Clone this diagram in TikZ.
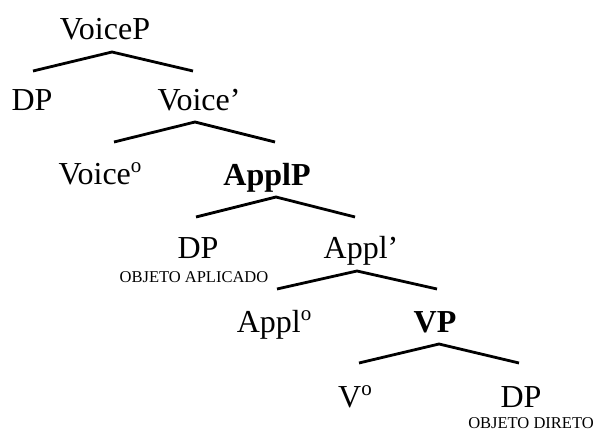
\documentclass[tikz,border=0pt]{standalone}
\usepackage{fontspec}
\setmainfont{Liberation Serif}
\begin{document}
\begin{tikzpicture}[x=1pt,y=-1pt,
  lbl/.style={anchor=base,inner sep=0pt,font=\fontsize{32}{36}\selectfont},
  blbl/.style={lbl,font=\fontsize{32}{36}\selectfont\bfseries},
  note/.style={anchor=base,inner sep=0pt,font=\fontsize{16.5}{18}\selectfont},
  branch/.style={line width=2.8pt,line cap=butt,line join=miter}]
\newcommand{\degsup}{\raisebox{12pt}{\fontsize{21}{21}\selectfont o}}
\useasboundingbox (0,0) rectangle (598,431);

% category labels (x = centre, y = baseline)
\node[lbl]  (voicep) at (105,39)  {VoiceP};
\node[lbl]  (dpa)    at (32,110)  {DP};
\node[lbl]  (voicebar) at (199,110) {Voice’};
\node[lbl]  (voicehead) at (100,184) {Voice\degsup};
\node[blbl] (applp)  at (267,185) {ApplP};
\node[lbl]  (dpb)    at (198,258) {DP};
\node[note] (objapl) at (194,282) {OBJETO APLICADO};
\node[lbl]  (applbar) at (361,258) {Appl’};
\node[lbl]  (applhead) at (274,332) {Appl\degsup};
\node[blbl] (vp)     at (435,332) {VP};
\node[lbl]  (vhead)  at (355,407) {V\degsup};
\node[lbl]  (dpc)    at (521,407) {DP};
\node[note] (objdir) at (531,428) {OBJETO DIRETO};

% branching points
\coordinate (t1) at (112,52);  \coordinate (l1) at (33,71);   \coordinate (r1) at (193,71);
\coordinate (t2) at (195,122); \coordinate (l2) at (114,142); \coordinate (r2) at (275,142);
\coordinate (t3) at (276,197); \coordinate (l3) at (196,217); \coordinate (r3) at (355,217);
\coordinate (t4) at (357,271); \coordinate (l4) at (277,289); \coordinate (r4) at (437,289);
\coordinate (t5) at (439,344); \coordinate (l5) at (359,363); \coordinate (r5) at (519,363);

\foreach \i in {1,...,5}
  \draw[branch] (l\i) -- (t\i) -- (r\i);
\end{tikzpicture}
\end{document}
